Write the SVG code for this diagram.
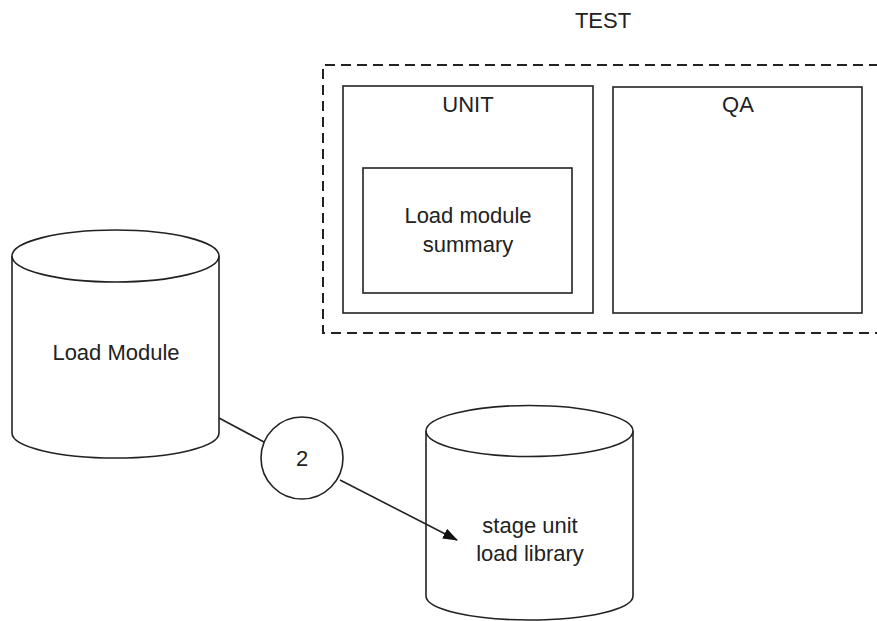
<svg xmlns="http://www.w3.org/2000/svg" width="877" height="621" viewBox="0 0 877 621">
  <style>
    .shape { fill: #ffffff; stroke: #222222; stroke-width: 1.6; }
    .frame { fill: none; stroke: #222222; stroke-width: 2; stroke-dasharray: 10 6; }
    .lbl { font-family: "Liberation Sans", Arial, sans-serif; font-size: 22px; fill: #222222; text-anchor: middle; }
    .conn { fill: none; stroke: #222222; stroke-width: 1.6; }
  </style>
  <defs>
    <marker id="arrow" viewBox="0 0 15 11" refX="14" refY="5.5" markerWidth="15" markerHeight="11" markerUnits="userSpaceOnUse" orient="auto">
      <path d="M0,0 L15,5.5 L0,11 Z" fill="#111111"/>
    </marker>
  </defs>
  <rect width="877" height="621" fill="#ffffff"/>

  <!-- TEST environment frame -->
  <g id="test">
    <text class="lbl" x="603" y="28">TEST</text>
    <path class="frame" d="M879,65 H323 V333 H879"/>
  </g>

  <!-- UNIT stage -->
  <g id="unit">
    <rect class="shape" x="343" y="86" width="250" height="227"/>
    <text class="lbl" x="468" y="112">UNIT</text>
  </g>

  <!-- Load module summary inside UNIT -->
  <g id="summary">
    <rect class="shape" x="363" y="168" width="209" height="125"/>
    <text class="lbl" x="468" y="223">Load module</text>
    <text class="lbl" x="468" y="252">summary</text>
  </g>

  <!-- QA stage -->
  <g id="qa">
    <rect class="shape" x="613" y="87" width="249" height="226"/>
    <text class="lbl" x="738" y="112">QA</text>
  </g>

  <!-- Load Module database -->
  <g id="load-module">
    <path class="shape" d="M12,256 V433 A103.5,25 0 0 0 219,433 V256"/>
    <ellipse class="shape" cx="115.5" cy="256" rx="103.5" ry="26"/>
    <text class="lbl" x="116" y="360">Load Module</text>
  </g>

  <!-- Stage unit load library database -->
  <g id="stage-library">
    <path class="shape" d="M426,431 V596 A103.5,24 0 0 0 633,596 V431"/>
    <ellipse class="shape" cx="529.5" cy="431" rx="103.5" ry="25.5"/>
    <text class="lbl" x="530" y="533">stage unit</text>
    <text class="lbl" x="530" y="561">load library</text>
  </g>

  <!-- Step 2 marker -->
  <g id="step-2">
    <circle class="shape" cx="302" cy="458" r="41"/>
    <text class="lbl" x="302" y="466">2</text>
  </g>

  <!-- Connectors -->
  <g id="connectors">
    <line class="conn" x1="219" y1="418" x2="264" y2="442"/>
    <line class="conn" x1="340" y1="480" x2="457" y2="540" marker-end="url(#arrow)"/>
  </g>
</svg>
